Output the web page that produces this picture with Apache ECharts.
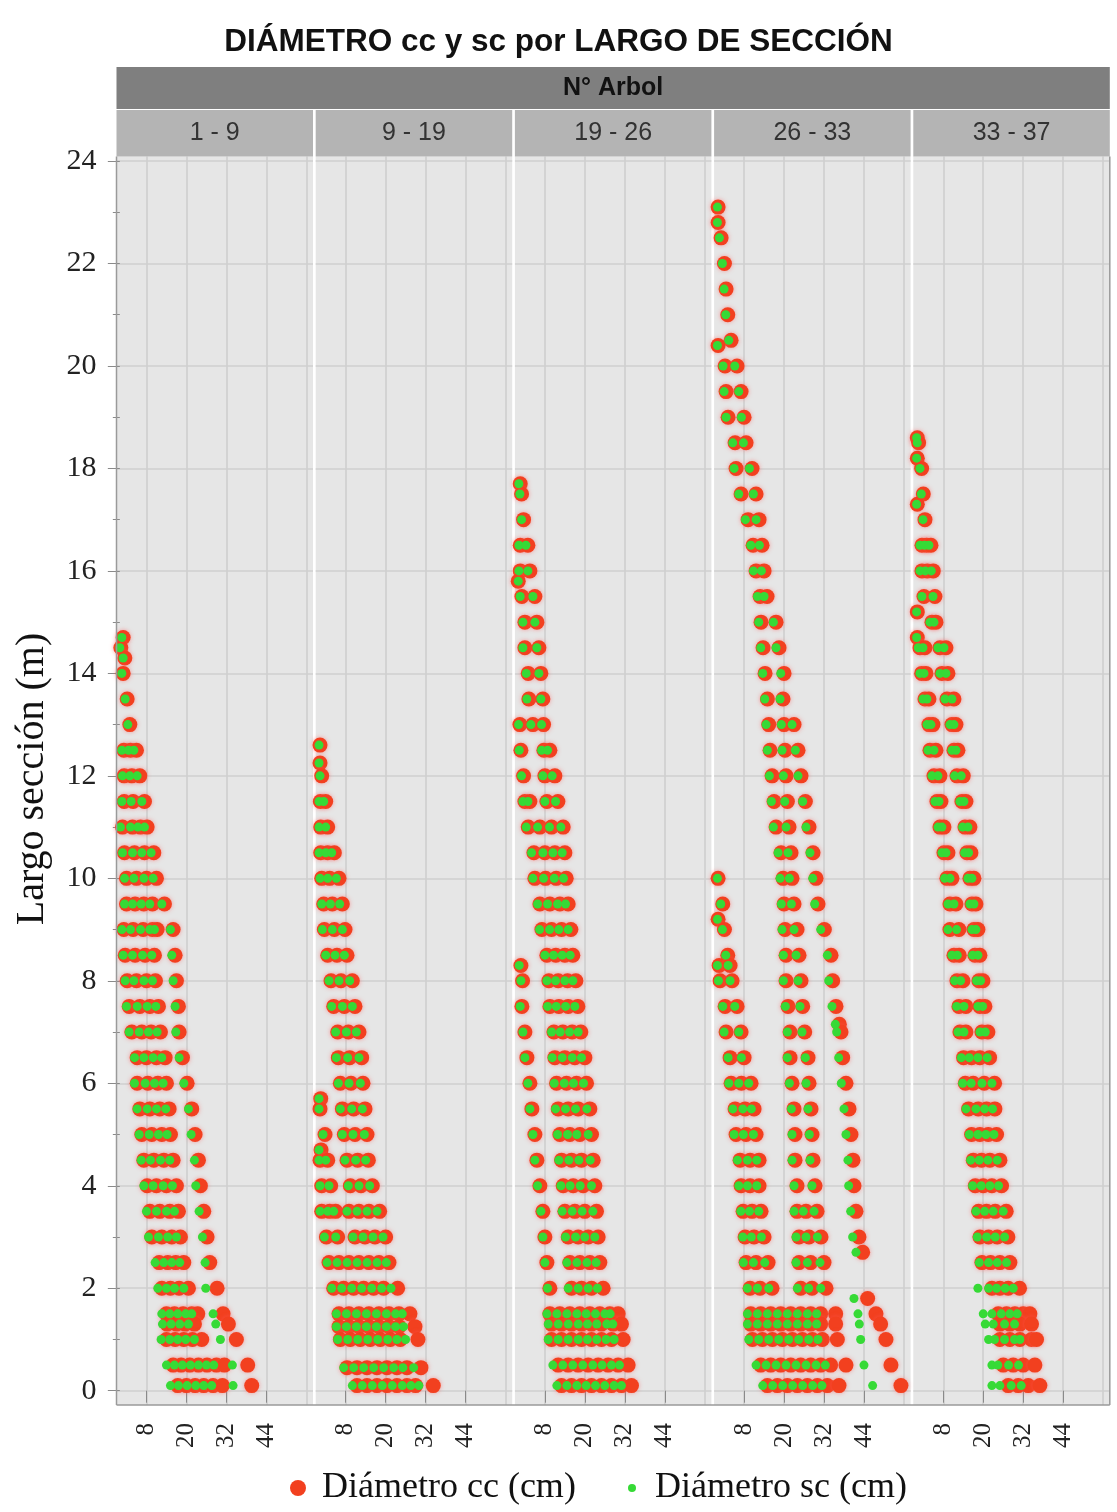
<!DOCTYPE html>
<html>
<head>
<meta charset="utf-8">
<script src="https://cdn.jsdelivr.net/npm/echarts@6/dist/echarts.min.js"></script>
<style>
  html, body { margin: 0; padding: 0; background: #ffffff; }
  #chart { width: 1117px; height: 1512px; }
</style>
</head>
<body>
<div id="chart"></div>
<script>
// ---- Tramos de árboles (un panel por tramo) ----
const tramos = ['1 - 9', '9 - 19', '19 - 26', '26 - 33', '33 - 37'];
const marcasX = [8, 20, 32, 44];
const lineasX = [8, 20, 32, 44, 56];
const marcasY = [0, 2, 4, 6, 8, 10, 12, 14, 16, 18, 20, 22, 24];
const marcasYmenores = [1, 3, 5, 7, 9, 11, 13, 15, 17, 19, 21, 23];

// ---- Panel 1 : árboles 1 - 9 ----
const alturas1 = [14.7, 14.5, 14.3, 14.0, 13.5, 13.0, 12.5, 12.0, 11.5, 11.0, 10.5, 10.0, 9.5, 9.0, 8.5, 8.0, 7.5, 7.0, 6.5, 6.0, 5.5, 5.0, 4.5, 4.0, 3.5, 3.0, 2.5, 2.0, 1.5, 1.3, 1.0, 0.5, 0.1];
const cc1 = [
  [1.0], [0.3], [1.5], [1.0], [2.2], [3.0],
  [1.2, 3.2, 5.0], [1.3, 3.6, 6.0], [1.3, 4.0, 7.4], [0.8, 3.8, 6.2, 8.2],
  [1.4, 4.4, 7.4, 10.2], [2.0, 5.0, 8.0, 11.0], [2.0, 4.6, 7.2, 9.8, 13.4],
  [1.2, 4.0, 7.0, 9.8, 11.2, 16.0], [1.6, 4.6, 7.6, 10.4, 16.6], [2.2, 5.0, 8.0, 10.7, 17.0],
  [2.8, 6.0, 9.0, 11.6, 17.6], [3.6, 6.6, 9.4, 12.2, 17.8], [5.2, 8.0, 11.0, 13.6, 18.8],
  [5.2, 8.4, 11.4, 14.0, 20.2], [6.0, 9.0, 12.0, 14.8, 21.6], [6.6, 9.6, 12.6, 15.2, 22.6],
  [7.2, 10.2, 13.2, 16.0, 23.6], [8.2, 11.0, 14.0, 17.0, 24.2], [9.0, 12.0, 15.0, 17.6, 25.2],
  [9.6, 12.6, 15.6, 18.2, 26.2], [11.8, 14.4, 16.8, 19.2, 27.0], [12.6, 15.2, 17.8, 20.6, 29.2],
  [14.0, 16.4, 19.0, 21.6, 23.4, 31.0], [14.2, 17.0, 19.6, 22.4, 32.6], [14.0, 16.6, 19.2, 21.8, 24.6, 35.0],
  [16.0, 18.4, 21.0, 23.6, 26.2, 29.0, 31.4, 38.4], [17.4, 20.0, 22.6, 25.2, 28.0, 30.8, 39.6]
];
const sc1 = [
  [0.6], [0.0], [1.0], [0.6], [1.6], [2.4],
  [0.6, 2.6, 4.2], [0.8, 3.0, 5.2], [0.6, 3.4, 6.6], [0.2, 3.2, 5.4, 7.4],
  [0.8, 3.8, 6.6, 9.4], [1.4, 4.2, 7.2, 10.0], [1.4, 3.8, 6.4, 9.0, 12.6],
  [0.6, 3.2, 6.2, 9.0, 10.4, 15.2], [1.0, 3.8, 6.8, 9.6, 15.6], [1.6, 4.2, 7.2, 9.8, 16.0],
  [2.0, 5.2, 8.2, 10.8, 16.6], [2.8, 5.8, 8.6, 11.2, 16.8], [4.4, 7.2, 10.0, 12.6, 17.8],
  [4.4, 7.6, 10.4, 13.0, 19.2], [5.2, 8.2, 11.0, 13.8, 20.6], [5.8, 8.8, 11.6, 14.2, 21.4],
  [6.4, 9.2, 12.2, 15.0, 22.4], [7.2, 10.0, 13.0, 15.8, 22.8], [8.0, 11.0, 14.0, 16.4, 23.8],
  [8.6, 11.6, 14.4, 17.0, 24.8], [10.6, 13.2, 15.6, 18.0, 25.6], [11.4, 14.0, 16.4, 19.2, 25.8],
  [12.6, 15.0, 17.4, 19.8, 21.6, 28.0], [12.8, 15.4, 18.0, 20.6, 28.8], [12.4, 15.0, 17.4, 19.8, 22.4, 30.2],
  [14.0, 16.4, 18.8, 21.2, 23.6, 26.0, 28.2, 33.8], [15.2, 17.6, 20.2, 22.8, 25.2, 27.6, 34.0]
];

// ---- Panel 2 : árboles 9 - 19 ----
const alturas2 = [12.6, 12.25, 12.0, 11.5, 11.0, 10.5, 10.0, 9.5, 9.0, 8.5, 8.0, 7.5, 7.0, 6.5, 6.0, 5.7, 5.5, 5.0, 4.7, 4.5, 4.0, 3.5, 3.0, 2.5, 2.0, 1.5, 1.25, 1.0, 0.45, 0.1];
const cc2 = [
  [0.3], [0.3], [0.8], [0.4, 2.0], [0.5, 2.6], [0.5, 2.6, 4.6], [0.8, 3.2, 6.0],
  [1.4, 4.0, 7.0], [1.6, 4.6, 7.8], [2.6, 5.4, 8.4], [3.6, 6.6, 10.0], [4.4, 7.6, 10.8],
  [5.6, 8.8, 12.0], [5.8, 9.2, 12.8], [6.4, 9.6, 13.2], [0.5], [0.3, 7.0, 10.4, 13.8],
  [1.8, 7.6, 10.8, 14.4], [0.6], [0.3, 2.6, 8.4, 11.6, 14.8], [0.8, 3.5, 9.4, 12.6, 16.0],
  [0.8, 3.2, 5.0, 9.0, 12.0, 15.0, 18.2], [2.2, 5.6, 10.8, 13.8, 16.8, 20.0],
  [3.0, 6.0, 9.0, 12.0, 15.0, 18.0, 21.0], [4.4, 7.4, 10.4, 13.4, 16.4, 19.4, 23.6],
  [6.0, 9.0, 12.0, 15.0, 18.0, 21.0, 24.0, 27.3], [6.0, 9.0, 12.0, 15.0, 18.0, 21.0, 24.0, 28.8],
  [6.4, 9.4, 12.4, 15.4, 18.4, 21.4, 24.4, 29.7], [8.4, 11.4, 14.4, 17.4, 20.4, 23.4, 26.4, 30.6],
  [11.4, 14.4, 17.4, 20.4, 23.4, 26.4, 29.0, 34.3]
];
const sc2 = [
  [0.0], [0.0], [0.3], [0.0, 1.4], [0.0, 2.0], [0.0, 2.0, 3.8], [0.3, 2.6, 5.2],
  [0.8, 3.4, 6.2], [1.0, 4.0, 7.0], [2.0, 4.8, 7.6], [3.0, 6.0, 9.2], [3.8, 7.0, 10.0],
  [5.0, 8.2, 11.2], [5.2, 8.6, 12.0], [5.8, 9.0, 12.4], [0.0], [0.0, 6.4, 9.8, 13.0],
  [1.2, 7.0, 10.2, 13.6], [0.0], [0.0, 2.0, 7.8, 11.0, 14.0], [0.3, 3.0, 8.8, 12.0, 15.2],
  [0.3, 2.6, 4.4, 8.4, 11.4, 14.4, 17.4], [1.6, 5.0, 10.2, 13.2, 16.2, 19.2],
  [2.4, 5.4, 8.4, 11.4, 14.4, 17.4, 20.2], [3.8, 6.8, 9.8, 12.8, 15.8, 18.8, 21.6],
  [5.2, 8.2, 11.2, 14.2, 17.2, 20.2, 23.0, 25.0], [5.2, 8.2, 11.2, 14.2, 17.2, 20.2, 23.0, 25.4],
  [5.6, 8.6, 11.6, 14.6, 17.6, 20.6, 23.4, 26.0], [7.4, 10.4, 13.4, 16.4, 19.4, 22.4, 25.2, 28.4],
  [10.0, 13.0, 16.0, 19.0, 22.0, 25.0, 27.6, 30.0]
];

// ---- Panel 3 : árboles 19 - 26 ----
const alturas3 = [17.7, 17.5, 17.0, 16.5, 16.0, 15.8, 15.5, 15.0, 14.5, 14.0, 13.5, 13.0, 12.5, 12.0, 11.5, 11.0, 10.5, 10.0, 9.5, 9.0, 8.5, 8.3, 8.0, 7.5, 7.0, 6.5, 6.0, 5.5, 5.0, 4.5, 4.0, 3.5, 3.0, 2.5, 2.0, 1.5, 1.3, 1.0, 0.5, 0.1];
const cc3 = [
  [0.6], [1.0], [1.6], [0.6, 2.9], [0.6, 3.5], [0.0], [1.1, 5.0], [2.0, 5.6], [2.0, 6.2],
  [3.0, 6.8], [3.2, 7.4], [0.5, 4.4, 7.6], [0.8, 7.7, 9.5], [1.6, 8.0, 11.0],
  [2.0, 3.5, 8.6, 11.9], [3.0, 6.5, 10.0, 13.5], [4.7, 8.0, 11.0, 14.0], [5.0, 8.2, 11.4, 14.4],
  [6.5, 9.5, 12.5, 15.0], [7.1, 10.0, 13.0, 15.8], [8.6, 11.3, 14.0, 16.4], [0.8],
  [1.3, 9.2, 12.0, 14.8, 17.3], [1.1, 9.5, 12.2, 15.0, 17.9], [2.0, 10.7, 13.4, 16.2, 18.8],
  [2.6, 11.0, 14.0, 17.0, 20.0], [3.5, 11.5, 14.5, 17.5, 20.5], [4.1, 12.0, 15.0, 18.0, 21.5],
  [5.0, 12.5, 15.5, 18.5, 22.0], [5.6, 13.0, 16.0, 19.0, 22.5], [6.5, 13.5, 16.5, 19.5, 23.0],
  [7.4, 14.0, 17.0, 20.0, 23.5], [8.0, 15.0, 18.0, 21.0, 24.0], [8.6, 15.5, 18.5, 21.5, 24.5],
  [9.5, 16.0, 19.0, 22.0, 25.5], [9.5, 12.5, 15.5, 18.5, 21.5, 24.5, 27.5, 30.0],
  [10.0, 13.0, 16.0, 19.0, 22.0, 25.0, 28.5, 31.0], [10.0, 13.0, 16.0, 19.0, 22.0, 25.0, 28.0, 31.5],
  [12.0, 15.0, 18.0, 21.0, 24.0, 27.0, 30.0, 33.0], [13.0, 16.0, 19.0, 22.0, 25.0, 28.0, 31.0, 34.0]
];
const sc3 = [
  [0.2], [0.5], [1.0], [0.2, 2.3], [0.2, 2.9], [0.0], [0.6, 4.4], [1.4, 5.0], [1.4, 5.6],
  [2.4, 6.2], [2.6, 6.8], [0.1, 3.8, 7.0], [0.3, 7.0, 8.8], [1.0, 7.4, 10.2],
  [1.4, 2.9, 8.0, 11.2], [2.4, 5.8, 9.4, 12.8], [4.0, 7.4, 10.4, 13.2], [4.4, 7.6, 10.8, 13.6],
  [5.8, 8.8, 11.8, 14.2], [6.4, 9.4, 12.2, 15.0], [8.0, 10.6, 13.2, 15.6], [0.3],
  [0.8, 8.6, 11.2, 14.0, 16.4], [0.6, 8.8, 11.4, 14.2, 17.0], [1.4, 10.0, 12.6, 15.4, 18.0],
  [2.0, 10.2, 13.2, 16.2, 19.0], [2.9, 10.8, 13.8, 16.6, 19.6], [3.5, 11.2, 14.2, 17.2, 20.6],
  [4.4, 11.8, 14.8, 17.6, 21.0], [5.0, 12.2, 15.2, 18.2, 21.6], [5.8, 12.8, 15.6, 18.6, 22.0],
  [6.8, 13.2, 16.2, 19.2, 22.4], [7.4, 14.2, 17.2, 20.0, 23.0], [8.0, 14.6, 17.6, 20.6, 23.4],
  [8.8, 15.0, 18.0, 21.0, 23.8], [8.6, 11.6, 14.6, 17.6, 20.4, 23.2, 26.0, 27.6],
  [9.0, 12.0, 15.0, 18.0, 20.8, 23.6, 26.6, 28.4], [9.0, 12.0, 15.0, 18.0, 20.8, 23.6, 26.4, 28.8],
  [10.4, 13.4, 16.4, 19.4, 22.4, 25.2, 28.0, 30.4], [11.6, 14.6, 17.6, 20.4, 23.2, 26.0, 28.8, 31.0]
];

// ---- Panel 4 : árboles 26 - 33 ----
const alturas4 = [23.1, 22.8, 22.5, 22.0, 21.5, 21.0, 20.5, 20.4, 20.0, 19.5, 19.0, 18.5, 18.0, 17.5, 17.0, 16.5, 16.0, 15.5, 15.0, 14.5, 14.0, 13.5, 13.0, 12.5, 12.0, 11.5, 11.0, 10.5, 10.0, 9.5, 9.2, 9.0, 8.5, 8.3, 8.0, 7.5, 7.15, 7.0, 6.5, 6.0, 5.5, 5.0, 4.5, 4.0, 3.5, 3.0, 2.7, 2.5, 2.0, 1.8, 1.5, 1.3, 1.0, 0.5, 0.1];
const cc4 = [
  [0.2], [0.2], [1.1], [2.1], [2.6], [3.1], [4.1], [0.2], [2.3, 5.9], [2.6, 7.1], [3.2, 8.0],
  [5.3, 8.6], [5.6, 10.4], [7.1, 11.6], [9.2, 12.5], [10.7, 13.4], [11.6, 14.0], [12.8, 14.9],
  [13.1, 17.6], [13.7, 18.5], [14.3, 20.0], [15.0, 19.7], [15.4, 20.0, 23.0], [15.8, 20.3, 24.2],
  [16.4, 20.6, 25.1], [17.0, 21.0, 26.4], [17.6, 21.5, 27.5], [19.1, 22.1, 28.7],
  [0.2, 19.7, 22.4, 29.6], [1.6, 20.0, 23.0, 30.2], [0.2], [2.1, 20.3, 23.9, 32.1],
  [3.1, 20.6, 24.5, 34.1], [0.5, 3.8], [0.8, 4.4, 20.6, 25.1, 34.6], [2.3, 5.9, 21.2, 25.6, 35.6],
  [36.6], [2.6, 7.1, 21.8, 26.2, 37.1], [3.8, 8.0, 21.8, 27.2, 37.6],
  [4.1, 7.2, 10.1, 22.4, 27.5, 38.6], [5.3, 8.3, 11.0, 23.0, 28.1, 39.5],
  [5.6, 8.6, 11.6, 23.3, 28.4, 40.1], [6.8, 9.8, 12.5, 23.3, 28.7, 40.7],
  [7.1, 9.8, 12.5, 23.9, 29.3, 41.0], [7.7, 10.4, 13.1, 23.9, 26.6, 29.9, 41.6],
  [8.3, 11.0, 14.0, 24.5, 27.5, 31.1, 42.5], [43.6], [8.6, 11.6, 15.2, 24.5, 28.0, 32.0],
  [9.8, 12.8, 16.4, 25.0, 28.4, 32.6], [45.1],
  [10.0, 13.0, 16.0, 19.0, 22.0, 25.0, 28.0, 31.0, 35.5, 47.6],
  [10.0, 13.0, 16.0, 19.0, 22.0, 25.0, 28.0, 31.0, 35.5, 49.0],
  [10.5, 13.5, 16.5, 19.5, 22.5, 25.5, 28.5, 31.5, 36.0, 50.6],
  [13.0, 16.0, 19.0, 22.0, 25.0, 28.0, 31.0, 34.0, 38.6, 52.1],
  [15.0, 18.0, 21.0, 24.0, 27.0, 30.0, 33.0, 36.5, 55.1]
];
const sc4 = [
  [0.0], [0.0], [0.6], [1.5], [2.0], [2.5], [3.4], [0.0], [1.7, 5.2], [2.0, 6.4], [2.6, 7.2],
  [4.6, 7.8], [5.0, 9.6], [6.4, 10.8], [8.4, 11.6], [10.0, 12.6], [10.8, 13.2], [12.0, 14.0],
  [12.4, 16.8], [13.0, 17.6], [13.6, 19.0], [14.2, 18.8], [14.6, 19.2, 22.4], [15.0, 19.4, 23.4],
  [15.6, 19.8, 24.2], [16.2, 20.2, 25.6], [16.8, 20.6, 26.6], [18.2, 21.2, 27.8],
  [0.0, 18.8, 21.6, 28.6], [1.0, 19.2, 22.2, 29.2], [0.0], [1.5, 19.4, 23.0, 31.0],
  [2.5, 19.8, 23.6, 33.0], [0.0, 3.2], [0.3, 3.8, 19.8, 24.2, 33.4], [1.6, 5.2, 20.4, 24.8, 34.4],
  [35.4], [2.0, 6.4, 21.0, 25.4, 35.8], [3.2, 7.2, 21.0, 26.4, 36.4],
  [3.4, 6.4, 9.4, 21.6, 26.6, 37.2], [4.6, 7.6, 10.2, 22.2, 27.2, 38.0],
  [5.0, 7.8, 10.8, 22.4, 27.6, 38.6], [6.0, 9.0, 11.8, 22.4, 27.8, 39.2],
  [6.4, 9.0, 11.8, 23.0, 28.4, 39.4], [7.0, 9.6, 12.4, 23.0, 25.8, 29.0, 40.0],
  [7.6, 10.2, 13.2, 23.6, 26.6, 30.0, 40.6], [41.6], [7.8, 10.8, 14.2, 23.6, 27.0, 30.8],
  [9.0, 12.0, 15.4, 24.0, 27.4, 31.0], [41.0],
  [9.0, 12.0, 15.0, 18.0, 21.0, 24.0, 27.0, 29.8, 42.2],
  [9.0, 12.0, 15.0, 18.0, 21.0, 24.0, 27.0, 29.8, 42.6],
  [9.4, 12.4, 15.4, 18.4, 21.4, 24.4, 27.4, 30.2, 43.0],
  [11.6, 14.6, 17.6, 20.6, 23.6, 26.6, 29.6, 32.4, 44.0],
  [13.6, 16.6, 19.6, 22.6, 25.6, 28.6, 31.4, 46.6]
];

// ---- Panel 5 : árboles 33 - 37 ----
const alturas5 = [18.6, 18.5, 18.2, 18.0, 17.5, 17.3, 17.0, 16.5, 16.0, 15.5, 15.2, 15.0, 14.7, 14.5, 14.0, 13.5, 13.0, 12.5, 12.0, 11.5, 11.0, 10.5, 10.0, 9.5, 9.0, 8.5, 8.0, 7.5, 7.0, 6.5, 6.0, 5.5, 5.0, 4.5, 4.0, 3.5, 3.0, 2.5, 2.0, 1.5, 1.3, 1.0, 0.5, 0.1];
const cc5 = [
  [0.2], [0.6], [0.2], [1.5], [2.0], [0.2], [2.5], [1.6, 3.0, 4.3], [1.6, 3.2, 5.0], [2.2, 5.5],
  [0.2], [4.6, 5.8], [0.2], [1.0, 2.5, 7.0, 8.8], [1.5, 2.8, 7.6, 9.4], [2.5, 3.7, 9.1, 11.2],
  [3.7, 4.9, 10.6, 11.8], [4.0, 5.8, 11.2, 12.4], [5.2, 7.0, 12.1, 14.0], [6.1, 7.3, 13.6, 14.8],
  [7.0, 8.2, 14.5, 16.0], [8.2, 9.4, 15.1, 16.3], [9.1, 10.6, 16.0, 17.2], [10.0, 11.8, 16.6, 17.8],
  [10.0, 12.7, 17.2, 18.4], [11.2, 12.8, 17.5, 19.0], [12.1, 13.9, 18.7, 19.9], [12.7, 14.8, 19.0, 20.5],
  [13.0, 14.8, 19.6, 21.4], [14.1, 16.5, 19.0, 21.9], [14.6, 17.0, 20.3, 23.4], [15.6, 18.5, 21.0, 23.5],
  [16.5, 19.0, 21.5, 24.0], [17.0, 19.5, 22.0, 25.0], [17.6, 20.0, 22.6, 25.5], [18.6, 21.0, 23.6, 26.9],
  [19.0, 21.6, 24.2, 27.4], [19.6, 22.2, 25.0, 28.0], [22.6, 25.0, 27.5, 30.9],
  [24.5, 27.0, 29.5, 32.0, 34.0], [25.0, 28.0, 31.0, 34.5], [25.0, 28.0, 31.0, 34.5, 36.0],
  [26.0, 29.0, 32.0, 35.5], [27.5, 30.5, 33.5, 37.0]
];
const sc5 = [
  [0.0], [0.2], [0.0], [1.0], [1.4], [0.0], [1.9], [1.0, 2.4, 3.7], [1.0, 2.6, 4.4], [1.6, 4.9],
  [0.0], [4.0, 5.2], [0.0], [0.5, 1.9, 6.4, 8.2], [1.0, 2.2, 7.0, 8.8], [1.9, 3.1, 8.5, 10.6],
  [3.1, 4.3, 10.0, 11.2], [3.4, 5.2, 10.6, 11.8], [4.6, 6.4, 11.4, 13.4], [5.5, 6.7, 13.0, 14.2],
  [6.4, 7.6, 13.8, 15.4], [7.6, 8.8, 14.4, 15.6], [8.4, 10.0, 15.4, 16.6], [9.4, 11.2, 16.0, 17.2],
  [9.4, 12.0, 16.6, 17.8], [10.6, 12.2, 16.8, 18.4], [11.4, 13.2, 18.0, 19.2], [12.0, 14.2, 18.4, 19.8],
  [12.4, 14.2, 19.0, 20.6], [13.4, 15.8, 18.4, 21.2], [13.8, 16.4, 19.6, 22.6], [14.8, 17.8, 20.4, 22.8],
  [15.8, 18.4, 20.8, 23.2], [16.2, 18.8, 21.4, 24.2], [16.8, 19.4, 22.0, 24.6], [17.8, 20.4, 23.0, 26.0],
  [18.2, 21.0, 23.6, 26.4], [18.8, 21.6, 24.2, 27.0], [18.4, 21.6, 24.0, 26.6, 29.0],
  [20.0, 22.6, 25.4, 28.0, 30.2], [20.6, 23.0, 26.4, 29.4], [21.6, 23.4, 26.4, 29.4, 31.0],
  [22.6, 24.4, 27.6, 30.6], [22.6, 25.0, 28.4, 31.4]
];

const alturas = [alturas1, alturas2, alturas3, alturas4, alturas5];
const diamCC = [cc1, cc2, cc3, cc4, cc5];
const diamSC = [sc1, sc2, sc3, sc4, sc5];

// ---- Disposición ----
const PLOT_L = 116.5;      // borde izquierdo del primer panel
const PITCH = 199.2;       // distancia entre paneles
const PANEL_W = 196.5;     // ancho de cada panel
const PLOT_R = PLOT_L + 4 * PITCH + PANEL_W;
const FRAME_TOP = 156.5, FRAME_BOTTOM = 1405;
const Y_MIN = -0.279, Y_MAX = 24.088;
const X_MIN = -1, X_MAX = 58;

const ROJO = '#f2401f';
const VERDE = '#36da36';
const SERIF = '"Liberation Serif", "Times New Roman", serif';
const SANS = '"Liberation Sans", Arial, sans-serif';

function pares(hs, filas) {
  const out = [];
  hs.forEach((h, i) => filas[i].forEach(d => out.push([d, h])));
  return out;
}

const grids = [], xAxes = [], yAxes = [], series = [], elementos = [];
const gridColor = '#cfcfcf';

for (let i = 0; i < 5; i++) {
  const left = PLOT_L + i * PITCH;
  grids.push({
    left: left, width: PANEL_W, top: FRAME_TOP, height: FRAME_BOTTOM - FRAME_TOP,
    show: true, backgroundColor: '#e6e6e6', borderWidth: 0, containLabel: false
  });
  // eje visible: marcas y etiquetas
  xAxes.push({
    gridIndex: i, type: 'value', min: X_MIN, max: X_MAX, position: 'bottom',
    axisLine: { show: false },
    axisTick: { show: true, customValues: marcasX, length: 12, lineStyle: { color: '#8a8a8a', width: 1 } },
    axisLabel: { customValues: marcasX, rotate: 90, margin: 18, fontFamily: SERIF, fontSize: 25, color: '#222' },
    splitLine: { show: false }
  });
  // eje auxiliar: líneas de la cuadrícula vertical
  xAxes.push({
    gridIndex: i, type: 'value', min: X_MIN, max: X_MAX, position: 'top',
    axisLine: { show: false },
    axisTick: { show: false, customValues: lineasX },
    axisLabel: { show: false },
    splitLine: { show: true, lineStyle: { color: gridColor, width: 1.6 } }
  });
  yAxes.push({
    gridIndex: i, type: 'value', min: Y_MIN, max: Y_MAX, position: 'left',
    axisLine: { show: false },
    axisTick: { show: i === 0, customValues: marcasY, length: 12, lineStyle: { color: '#8a8a8a' } },
    axisLabel: { show: i === 0, customValues: marcasY, margin: 20, fontFamily: SERIF, fontSize: 30, color: '#222' },
    splitLine: { show: true, lineStyle: { color: gridColor, width: 1.6 } }
  });
  yAxes.push({
    gridIndex: i, type: 'value', min: Y_MIN, max: Y_MAX, position: 'left',
    axisLine: { show: false },
    axisTick: { show: i === 0, customValues: marcasYmenores, length: 7, lineStyle: { color: '#8a8a8a' } },
    axisLabel: { show: false },
    splitLine: { show: false }
  });

  series.push({
    type: 'scatter', name: 'Diámetro cc (cm)', xAxisIndex: 2 * i, yAxisIndex: 2 * i,
    data: pares(alturas[i], diamCC[i]), symbol: 'circle', symbolSize: 15, clip: false, z: 2,
    itemStyle: { color: ROJO, opacity: 1, shadowBlur: 4, shadowColor: 'rgba(255,90,90,0.55)' },
    emphasis: { disabled: true }
  });
  series.push({
    type: 'scatter', name: 'Diámetro sc (cm)', xAxisIndex: 2 * i, yAxisIndex: 2 * i,
    data: pares(alturas[i], diamSC[i]), symbol: 'circle', symbolSize: 9, clip: false, z: 3,
    itemStyle: { color: VERDE, opacity: 1 },
    emphasis: { disabled: true }
  });

  // cabecera de cada tramo
  elementos.push({
    type: 'rect', silent: true, z: 10,
    shape: { x: left, y: 110, width: PANEL_W, height: FRAME_TOP - 110 },
    style: { fill: '#b4b4b4' }
  });
  elementos.push({
    type: 'text', silent: true, z: 11, x: left + PANEL_W / 2, y: 133,
    style: { text: tramos[i], font: '25px ' + SANS, fill: '#333', align: 'center', verticalAlign: 'middle' }
  });
}

// banda superior "N° Arbol"
elementos.push({
  type: 'rect', silent: true, z: 10,
  shape: { x: PLOT_L, y: 67, width: PLOT_R - PLOT_L, height: 42 },
  style: { fill: '#7f7f7f' }
});
elementos.push({
  type: 'text', silent: true, z: 11, x: (PLOT_L + PLOT_R) / 2, y: 88,
  style: { text: 'N° Arbol', font: 'bold 25px ' + SANS, fill: '#111', align: 'center', verticalAlign: 'middle' }
});
// marco del área de gráficos
elementos.push({ type: 'line', silent: true, z: 20,
  shape: { x1: PLOT_L, y1: FRAME_TOP, x2: PLOT_L, y2: FRAME_BOTTOM }, style: { stroke: '#9a9a9a', lineWidth: 1.5 } });
elementos.push({ type: 'line', silent: true, z: 20,
  shape: { x1: PLOT_L, y1: FRAME_BOTTOM, x2: PLOT_R, y2: FRAME_BOTTOM }, style: { stroke: '#9a9a9a', lineWidth: 1.5 } });
elementos.push({ type: 'line', silent: true, z: 20,
  shape: { x1: PLOT_R, y1: FRAME_TOP, x2: PLOT_R, y2: FRAME_BOTTOM }, style: { stroke: '#9a9a9a', lineWidth: 1.5 } });
// título del eje vertical
elementos.push({
  type: 'text', silent: true, z: 11, x: 32, y: 779, rotation: Math.PI / 2,
  style: { text: 'Largo sección (m)', font: '40px ' + SERIF, fill: '#111', align: 'center', verticalAlign: 'middle' }
});

const chart = echarts.init(document.getElementById('chart'), null, { renderer: 'canvas' });
chart.setOption({
  animation: false,
  backgroundColor: '#ffffff',
  title: {
    text: 'DIÁMETRO cc y sc por LARGO DE SECCIÓN',
    left: 'center', top: 21,
    textStyle: { fontFamily: SANS, fontWeight: 'bold', fontSize: 31.5, color: '#111' }
  },
  legend: [
    {
      data: ['Diámetro cc (cm)'], left: 290, top: 1470, padding: 0,
      icon: 'circle', itemWidth: 16, itemHeight: 16, selectedMode: false,
      textStyle: { fontFamily: SERIF, fontSize: 36, color: '#111', padding: [0, 0, 0, 11] }
    },
    {
      data: ['Diámetro sc (cm)'], left: 628, top: 1470, padding: 0,
      icon: 'circle', itemWidth: 8, itemHeight: 8, selectedMode: false,
      textStyle: { fontFamily: SERIF, fontSize: 36, color: '#111', padding: [0, 0, 0, 14] }
    }
  ],
  grid: grids,
  xAxis: xAxes,
  yAxis: yAxes,
  series: series,
  graphic: { elements: elementos }
});
</script>
</body>
</html>
